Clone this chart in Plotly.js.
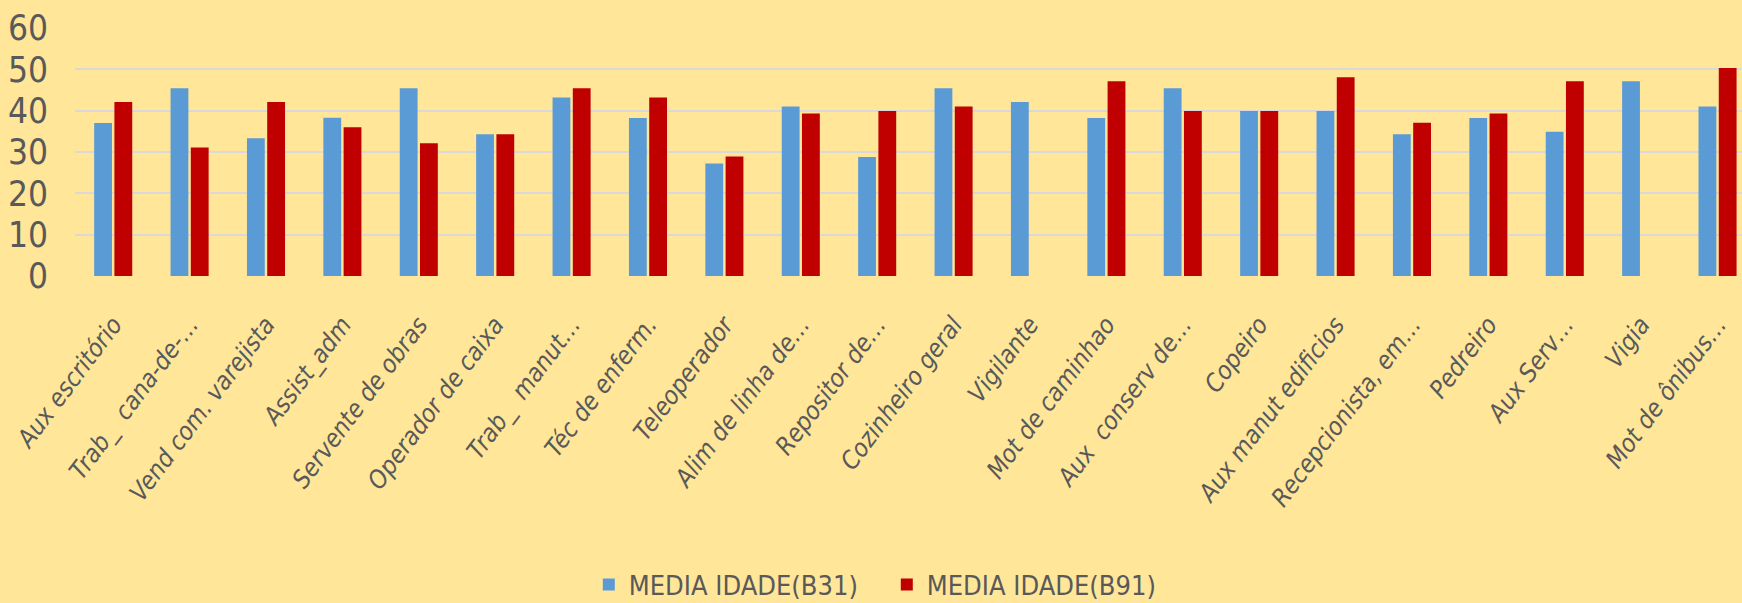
<!DOCTYPE html>
<html>
<head>
<meta charset="utf-8">
<script src="https://cdn.plot.ly/plotly-3.0.1.min.js"></script>
<style>html,body{margin:0;padding:0;background:#FFE699;}#chart{width:1742px;height:603px;}</style>
</head>
<body>
<div id="chart"></div>
<script>
const categories = [
  "Aux escritório", "Trab_\u00a0 cana-de-…", "Vend com. varejista", "Assist_adm",
  "Servente de obras", "Operador de caixa", "Trab_\u00a0 manut…", "Téc de enferm.",
  "Teleoperador", "Alim de linha de…", "Repositor de…", "Cozinheiro geral",
  "Vigilante", "Mot de caminhao", "Aux\u00a0 conserv de…", "Copeiro",
  "Aux manut edificios", "Recepcionista, em…", "Pedreiro", "Aux Serv…",
  "Vigia", "Mot de ônibus…"
];
const seriesNames = ["MEDIA IDADE(B31)", "MEDIA IDADE(B91)"];
const b31 = [37, 45.4, 33.3, 38.3, 45.4, 34.3, 43.2, 38.2, 27.2, 41, 28.8, 45.4,
             42.1, 38.2, 45.4, 39.9, 39.9, 34.3, 38.2, 34.9, 47.1, 41];
const b91 = [42.1, 31.1, 42.1, 36, 32.1, 34.3, 45.4, 43.2, 28.9, 39.3, 39.9, 41,
             null, 47.1, 39.9, 39.9, 48.1, 37.1, 39.3, 47.1, null, 50.3];
const yTicks = [0, 10, 20, 30, 40, 50, 60];

const font = '"DejaVu Sans Condensed", "Liberation Sans Narrow", "DejaVu Sans", sans-serif';
const gray = '#595959';

const traces = [
  {type: 'bar', name: seriesNames[0], x: categories, y: b31,
   marker: {color: '#5B9BD5'}},
  {type: 'bar', name: seriesNames[1], x: categories, y: b91,
   marker: {color: '#C00000'}}
];

const layout = {
  width: 1742, height: 603,
  paper_bgcolor: '#FFE699', plot_bgcolor: '#FFE699',
  margin: {l: 75, r: 0, t: 28, b: 327},
  barmode: 'group', bargap: 0.47, bargroupgap: 0.12,
  showlegend: true,
  legend: {orientation: 'h', xref: 'container', yref: 'container',
           x: 0.338, xanchor: 'left', y: 0.03, yanchor: 'middle',
           font: {family: font, size: 27, color: gray}, itemwidth: 30,
           entrywidth: 253, entrywidthmode: 'pixels',
           bgcolor: 'rgba(0,0,0,0)'},
  xaxis: {type: 'category', range: [-0.5, 21.32], showgrid: false,
          tickangle: -53, ticklabelstandoff: 28,
          tickfont: {family: font, size: 25, color: gray, style: 'italic'},
          showline: false, zeroline: false},
  yaxis: {range: [0, 60], tickvals: yTicks, ticktext: yTicks.map(String),
          gridcolor: '#D9D9D9', gridwidth: 2, zeroline: false,
          ticklabelstandoff: 26,
          tickfont: {family: font, size: 35, color: gray}}
};

Plotly.newPlot('chart', traces, layout, {displayModeBar: false});
</script>
</body>
</html>
